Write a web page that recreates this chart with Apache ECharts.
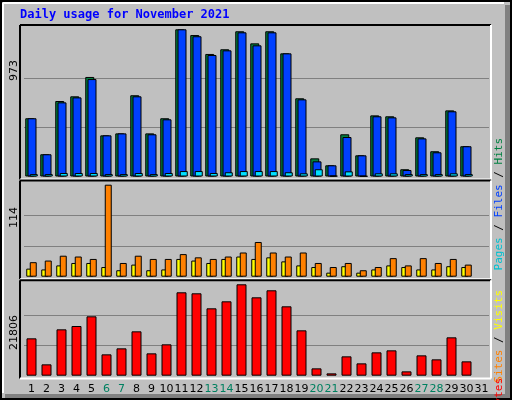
<!DOCTYPE html>
<html><head><meta charset="utf-8">
<script src="https://cdn.jsdelivr.net/npm/echarts@6/dist/echarts.min.js"></script>
<style>html,body{margin:0;padding:0;background:#c0c0c0}#c{width:512px;height:400px}</style>
</head><body><div id="c"></div>
<script>
var days = ['1','2','3','4','5','6','7','8','9','10','11','12','13','14','15','16','17','18','19','20','21','22','23','24','25','26','27','28','29','30','31'];
var weekend = ['6','7','13','14','20','21','27','28'];
var hits = [385,147,499,530,658,272,285,537,285,385,973,935,810,841,960,880,960,814,517,120,74,279,140,404,398,48,259,167,437,200];
var files = [385,147,490,523,644,272,285,530,279,378,973,927,803,834,953,867,953,814,510,100,74,261,140,398,391,43,252,160,431,200];
var pages = [16,16,23,23,23,16,16,23,16,23,36,36,23,28,36,36,36,28,21,48,5,34,3,21,21,16,16,16,21,16];
var visits = [10,9,14,17,17,12,8,15,8,9,22,20,17,22,25,22,24,19,14,12,5,13,5,9,14,12,9,9,13,12];
var sites = [18,20,26,25,22,114,17,26,22,22,28,24,22,25,30,43,30,25,30,17,12,17,8,12,23,14,23,17,22,15];
var kbytes = [8913,2706,11062,11857,14165,5093,6526,10584,5332,7481,19895,19656,16075,17746,21806,18701,20372,16553,10823,1751,557,4616,2944,5571,6048,1035,4854,3899,9152,3422];
var maxLabels = ['973','114','21806'];

var ch = echarts.init(document.getElementById('c'));
var G = [{top:29.3,height:147.2},{top:184.7,height:92},{top:284.3,height:91.4}];
var maxes = [973,114,21806];
function yax(i){return {gridIndex:i,min:0,max:maxes[i],interval:maxes[i]/3,axisLine:{show:false},axisTick:{show:false},axisLabel:{show:false},
  splitLine:{lineStyle:{color:['transparent','#808080','#808080','transparent'],width:1}}};}
function xax(i){return {type:'category',gridIndex:i,data:days,axisLine:{show:false},axisTick:{show:false},
  axisLabel:{show:i===2,interval:0,margin:8,fontFamily:'DejaVu Sans',fontSize:11,
    color:function(v){return weekend.indexOf(v)>=0?'#008060':'#000000';}}};}
var bs = {borderColor:'#000',borderWidth:1};
function rot(x,y,rich,text){return {type:'text',x:x,y:y,rotation:Math.PI/2,style:{text:text,rich:rich,font:'11px DejaVu Sans Mono',align:'right',verticalAlign:'middle'}};}
var lines=[];
function panelFrame(t,b){
  lines.push({type:'line',shape:{x1:20,y1:t,x2:491,y2:t},style:{stroke:'#000',lineWidth:2}});
  lines.push({type:'line',shape:{x1:20,y1:t,x2:20,y2:b},style:{stroke:'#000',lineWidth:2}});
  lines.push({type:'line',shape:{x1:20,y1:b,x2:491,y2:b},style:{stroke:'#fff',lineWidth:2}});
  lines.push({type:'line',shape:{x1:491,y1:t,x2:491,y2:b},style:{stroke:'#fff',lineWidth:2}});
}
panelFrame(25,179.5);panelFrame(180.5,279.3);panelFrame(280.3,378.5);
var gfx = [
 {type:'rect',shape:{x:0,y:0,width:512,height:400},style:{fill:'#c0c0c0'},z:-10},
 {type:'rect',shape:{x:505,y:5,width:7,height:395},style:{fill:'#808080'},z:-9},
 {type:'rect',shape:{x:5,y:394,width:507,height:6},style:{fill:'#808080'},z:-9},
 {type:'rect',shape:{x:1,y:1,width:510,height:398},style:{fill:'none',stroke:'#000',lineWidth:2}},
 {type:'line',shape:{x1:3,y1:3,x2:504,y2:3},style:{stroke:'#fff',lineWidth:2}},
 {type:'line',shape:{x1:3,y1:3,x2:3,y2:393},style:{stroke:'#fff',lineWidth:2}},
 {type:'text',x:20,y:15,style:{text:'Daily usage for November 2021',font:'bold 12px DejaVu Sans Mono',fill:'#0000ff',verticalAlign:'middle'}},
 {type:'text',x:14,y:26,rotation:Math.PI/2,style:{text:maxLabels[0],font:'11px DejaVu Sans',fill:'#000',align:'right',verticalAlign:'middle'}},
 {type:'text',x:14,y:182,rotation:Math.PI/2,style:{text:maxLabels[1],font:'11px DejaVu Sans',fill:'#000',align:'right',verticalAlign:'middle'}},
 {type:'text',x:14,y:282,rotation:Math.PI/2,style:{text:maxLabels[2],font:'11px DejaVu Sans',fill:'#000',align:'right',verticalAlign:'middle'}},
 rot(499,26,{p:{fill:'#00c0d0'},f:{fill:'#0040ff'},h:{fill:'#008040'},s:{fill:'#000'}},'{p|Pages}{s| / }{f|Files}{s| / }{h|Hits}'),
 rot(499,182,{a:{fill:'#ff8000'},v:{fill:'#ffff00'},s:{fill:'#000'}},'{a|Sites}{s| / }{v|Visits}'),
 rot(499,285,{k:{fill:'#ff0000'}},'{k|KBytes}')
].concat(lines);
gfx[9].style.text=maxLabels[2];
// place rotated texts from bottom: right-aligned at y means text extends upward after rotation
gfx[10].y=138; gfx[11].y=290; gfx[12].y=378;
gfx[7].y=60; gfx[8].y=207; gfx[9].y=315;
ch.setOption({
  animation:false,
  grid:G.map(function(g){return {left:24,width:465,top:g.top,height:g.height};}),
  xAxis:[xax(0),xax(1),xax(2)],
  yAxis:[yax(0),yax(1),yax(2)],
  series:[
   {type:'bar',xAxisIndex:0,yAxisIndex:0,data:hits,barWidth:9,barGap:'-75%',itemStyle:Object.assign({color:'#008040'},bs)},
   {type:'bar',xAxisIndex:0,yAxisIndex:0,data:files,barWidth:9,barGap:'-75%',itemStyle:Object.assign({color:'#0040ff'},bs)},
   {type:'bar',xAxisIndex:0,yAxisIndex:0,data:pages,barWidth:8,barGap:'-75%',itemStyle:Object.assign({color:'#00e0ff'},bs)},
   {type:'bar',xAxisIndex:1,yAxisIndex:1,data:visits,barWidth:7,barGap:'-50%',itemStyle:Object.assign({color:'#ffff00'},bs)},
   {type:'bar',xAxisIndex:1,yAxisIndex:1,data:sites,barWidth:7,barGap:'-50%',itemStyle:Object.assign({color:'#ff8000'},bs)},
   {type:'bar',xAxisIndex:2,yAxisIndex:2,data:kbytes,barWidth:10,itemStyle:Object.assign({color:'#ff0000'},bs)}
  ],
  graphic:gfx
});
</script></body></html>
